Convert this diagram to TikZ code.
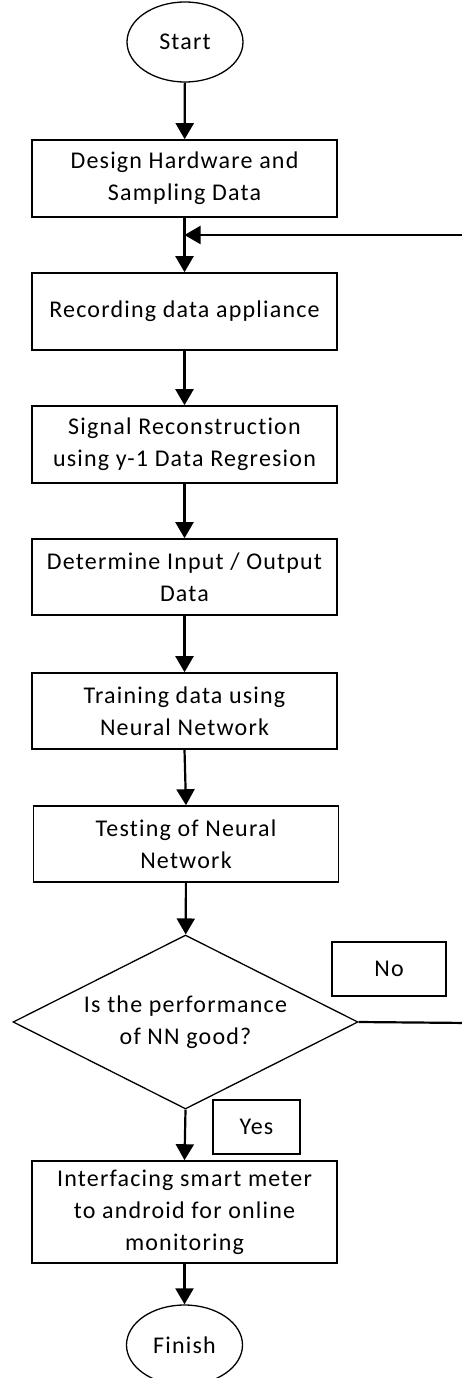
\documentclass[tikz,border=0pt]{standalone}
\usepackage{fontspec}
\setmainfont{Carlito}[LetterSpace=5, Ligatures=NoCommon]
\usetikzlibrary{arrows.meta,shapes.geometric}

\tikzset{
  every node/.style={font=\fontsize{24}{32}\selectfont, align=center},
  stepbox/.style={draw, line width=1.6pt, minimum width=305pt, inner sep=0pt},
  terminal/.style={draw, ellipse, line width=1.3pt, minimum width=116pt, minimum height=80pt, inner sep=0pt},
  decision/.style={draw, diamond, aspect=2, line width=1.3pt, inner sep=0pt, minimum width=345pt, minimum height=174pt},
  tag/.style={draw, line width=1.6pt, inner sep=0pt},
  flow/.style={line width=2.2pt, -{Triangle[width=18pt,length=16pt]}},
  plain/.style={line width=2.2pt}
}

\begin{document}
\begin{tikzpicture}[x=1pt, y=-1pt]
  \useasboundingbox (0,0) rectangle (462,1378);

  % terminals
  \node[terminal] (start) at (185,42) {Start};
  \node[terminal] (finish) at (184.5,1345) {Finish};

  % process steps
  \node[stepbox, minimum height=77pt] (s1) at (184.5,178.5) {Design Hardware and\\Sampling Data};
  \node[stepbox, minimum height=77pt] (s2) at (184.5,311.5) {Recording data appliance};
  \node[stepbox, minimum height=77pt] (s3) at (184.5,444.5) {Signal Reconstruction\\using y-1 Data Regresion};
  \node[stepbox, minimum height=76pt] (s4) at (184.5,577) {Determine Input / Output\\Data};
  \node[stepbox, minimum height=76pt] (s5) at (184.5,711) {Training data using\\Neural Network};
  \node[stepbox, minimum height=76pt] (s6) at (186,844) {Testing of Neural\\Network};
  \node[decision] (dec) at (185.5,1022) {Is the performance\\of NN good?};
  \node[stepbox, minimum height=102pt] (s8) at (184.5,1212) {Interfacing smart meter\\to android for online\\monitoring};

  % branch labels
  \node[tag, minimum width=114pt, minimum height=54pt] (no) at (389,969) {No};
  \node[tag, minimum width=87pt, minimum height=54pt] (yes) at (256.5,1127) {Yes};

  % loop-back points
  \coordinate (join) at (184.5,235);
  \coordinate (backin) at (470,235);
  \coordinate (backout) at (470,1023);

  % main flow
  \draw[flow] (start) -- (s1);
  \draw[flow] (s1) -- (s2);
  \draw[flow] (s2) -- (s3);
  \draw[flow] (s3) -- (s4);
  \draw[flow] (s4) -- (s5);
  \draw[flow] (s5.south) -- (s6.north);
  \draw[flow] (s6) -- (dec);
  \draw[flow] (dec.south) -- (s8.north);
  \draw[flow] (s8) -- (finish);

  % feedback path
  \draw[flow] (backin) -- (join);
  \draw[plain] (dec.east) -- (backout);
\end{tikzpicture}
\end{document}
